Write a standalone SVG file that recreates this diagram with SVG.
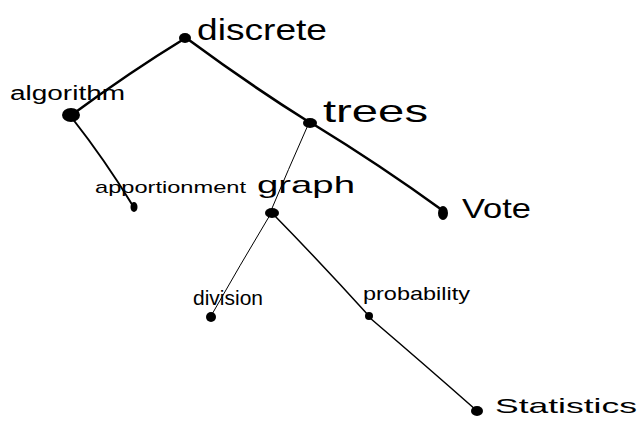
<svg xmlns="http://www.w3.org/2000/svg" width="641" height="421" viewBox="0 0 641 421">
<style>
.lbl{font-family:"Liberation Sans",Arial,sans-serif;fill:#000}
.e{fill:none;stroke:#000;stroke-linecap:round}
.n{fill:#000}
</style>
<rect width="641" height="421" fill="#fff"/>
<g id="connectors">
<path class="e" stroke-width="2.6" d="M184,39 Q130,72 73,114"/>
<path class="e" stroke-width="2.6" d="M189,40 Q250,85 309,122"/>
<path class="e" stroke-width="2.6" d="M313,124 Q380,165 442,210"/>
<path class="e" stroke-width="1" d="M308,125 Q288,170 270,213"/>
<path class="e" stroke-width="2" d="M72,118 Q105,160 133,206"/>
<path class="e" stroke-width="1" d="M270,215 Q240,265 211,316"/>
<path class="e" stroke-width="1.5" d="M274,215 Q320,262 369,316"/>
<path class="e" stroke-width="1.5" d="M370,318 Q425,365 476,410"/>
</g>
<g id="discrete"><ellipse class="n" cx="185" cy="38" rx="6" ry="5"/><text class="lbl" x="197" y="40" font-size="30" textLength="130" lengthAdjust="spacingAndGlyphs">discrete</text></g>
<g id="algorithm"><ellipse class="n" cx="71" cy="115" rx="9" ry="7"/><text class="lbl" x="10" y="100" font-size="20" textLength="115" lengthAdjust="spacingAndGlyphs">algorithm</text></g>
<g id="trees"><ellipse class="n" cx="310" cy="123" rx="7" ry="5"/><text class="lbl" x="323" y="122" font-size="32" textLength="105" lengthAdjust="spacingAndGlyphs">trees</text></g>
<g id="vote"><ellipse class="n" cx="443" cy="213" rx="5" ry="7"/><text class="lbl" x="462" y="218" font-size="28" textLength="69" lengthAdjust="spacingAndGlyphs">Vote</text></g>
<g id="apportionment"><ellipse class="n" cx="134" cy="207" rx="3.5" ry="5"/><text class="lbl" x="95" y="193" font-size="17" textLength="151" lengthAdjust="spacingAndGlyphs">apportionment</text></g>
<g id="graph"><ellipse class="n" cx="272" cy="213" rx="7" ry="5"/><text class="lbl" x="257" y="193" font-size="24" textLength="98" lengthAdjust="spacingAndGlyphs">graph</text></g>
<g id="division"><ellipse class="n" cx="211" cy="317" rx="5" ry="5"/><text class="lbl" x="193" y="305" font-size="21" textLength="70" lengthAdjust="spacingAndGlyphs">division</text></g>
<g id="probability"><ellipse class="n" cx="369" cy="316" rx="4" ry="4"/><text class="lbl" x="363" y="300" font-size="19" textLength="107" lengthAdjust="spacingAndGlyphs">probability</text></g>
<g id="statistics"><ellipse class="n" cx="477" cy="411" rx="6" ry="5"/><text class="lbl" x="495" y="413" font-size="21" textLength="142" lengthAdjust="spacingAndGlyphs">Statistics</text></g>
</svg>
